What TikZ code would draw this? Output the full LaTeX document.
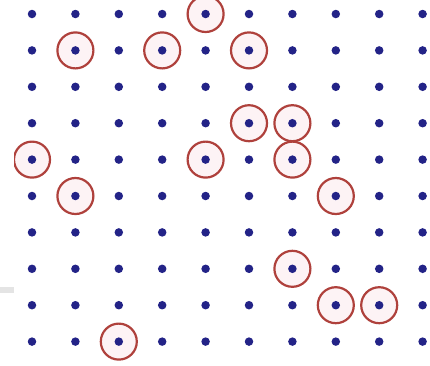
\documentclass[tikz,border=0pt]{standalone}
\definecolor{dotblue}{RGB}{35,35,135}
\definecolor{ringred}{RGB}{175,65,60}
\definecolor{ringfill}{RGB}{253,243,245}
\definecolor{barg}{RGB}{228,228,228}
\tikzset{
  gdot/.style={circle,fill=dotblue,inner sep=0pt,minimum size=8.5pt},
  ring/.style={circle,draw=ringred,line width=2.2pt,fill=ringfill,inner sep=0pt,minimum size=36pt}
}
\begin{document}
\begin{tikzpicture}[x=1pt,y=-1pt]
\useasboundingbox (0,0) rectangle (430,365);
\fill[white] (0,0) rectangle (430,365);
\fill[barg] (0,287) rectangle (14,293);
% rings
\foreach \c/\r in {4/0, 1/1, 3/1, 5/1, 5/3, 6/3, 0/4, 4/4, 6/4, 1/5, 7/5, 6/7, 7/8, 8/8, 2/9}{
  \node[ring] (ring-\c-\r) at ({32+43.4*\c},{14+36.4*\r}) {};
}
% dots
\foreach \c in {0,...,9}{
  \foreach \r in {0,...,9}{
    \node[gdot] (dot-\c-\r) at ({32+43.4*\c},{14+36.4*\r}) {};
  }
}
\fill[white] (0,0) rectangle (14,287);
\fill[white] (0,293) rectangle (14,365);
\end{tikzpicture}
\end{document}
